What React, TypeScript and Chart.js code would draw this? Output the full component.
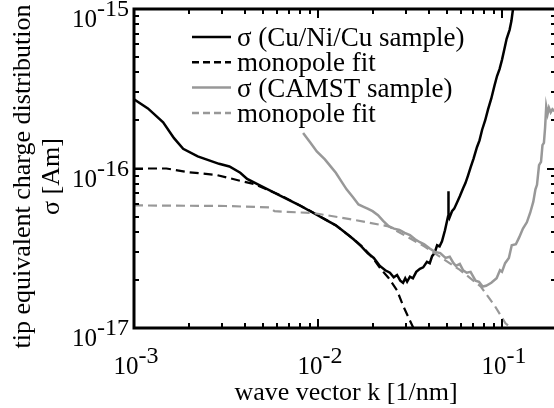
import React, { useEffect, useRef } from "react";
import { Chart, registerables } from "chart.js";

Chart.register(...registerables);

// ---- data ----
const cuK = [
  0.001, 0.00119, 0.00144, 0.00165, 0.00185, 0.00222, 0.0029, 0.0033, 0.00378, 0.00412,
  0.00492, 0.00642, 0.008, 0.0094, 0.0111, 0.0125, 0.0141, 0.0156, 0.0172, 0.0186,
  0.0201, 0.0217, 0.0232, 0.0246, 0.0258, 0.0269, 0.028, 0.029, 0.0298, 0.0305,
  0.0316, 0.0328, 0.0342, 0.0358, 0.0373, 0.0391, 0.0405, 0.0417, 0.043, 0.0444,
  0.0458, 0.0472, 0.049, 0.0509, 0.0511, 0.0513, 0.0518, 0.0535, 0.055, 0.0569,
  0.059, 0.0614, 0.0633, 0.0653, 0.0676, 0.07, 0.0731, 0.0755, 0.078, 0.081,
  0.084, 0.0875, 0.091, 0.094, 0.097, 0.1, 0.103, 0.106, 0.11, 0.1125, 0.1148, 0.117,
];
const cuSigma = [
  2.72e-16, 2.38e-16, 1.95e-16, 1.55e-16, 1.33e-16, 1.19e-16, 1.07e-16, 1.03e-16, 9.4e-17, 8.6e-17,
  7.75e-17, 6.65e-17, 5.85e-17, 5.28e-17, 4.75e-17, 4.4e-17, 3.95e-17, 3.6e-17, 3.25e-17, 2.95e-17,
  2.75e-17, 2.45e-17, 2.3e-17, 2.22e-17, 2.08e-17, 2.15e-17, 1.98e-17, 1.92e-17, 2.05e-17, 1.95e-17,
  2.1e-17, 2.05e-17, 2.25e-17, 2.35e-17, 2.4e-17, 2.6e-17, 2.55e-17, 2.82e-17, 2.95e-17, 3.3e-17,
  3.25e-17, 3.5e-17, 4.1e-17, 5.0e-17, 7.2e-17, 5.1e-17, 4.9e-17, 5.4e-17, 5.6e-17, 6.1e-17,
  6.7e-17, 7.5e-17, 8.1e-17, 9.0e-17, 1.02e-16, 1.15e-16, 1.36e-16, 1.5e-16, 1.75e-16, 2.0e-16,
  2.35e-16, 2.75e-16, 3.3e-16, 3.8e-16, 4.2e-16, 4.8e-16, 5.6e-16, 6.5e-16, 7.4e-16, 8.4e-16, 1.0e-15, 1.1e-15,
];

const cuFitK = [
  0.001, 0.0015, 0.00194, 0.00282, 0.0039, 0.0045, 0.00642, 0.008, 0.0094, 0.0111,
  0.0125, 0.0141, 0.0156, 0.0172, 0.0186, 0.0201, 0.0217, 0.0242, 0.0269, 0.029,
  0.0312, 0.033, 0.0345,
];
const cuFitSigma = [
  1.0e-16, 1.0e-16, 9.5e-17, 9.1e-17, 8.3e-17, 8.0e-17, 6.7e-17, 5.85e-17, 5.3e-17, 4.75e-17,
  4.4e-17, 3.95e-17, 3.62e-17, 3.28e-17, 2.98e-17, 2.7e-17, 2.38e-17, 2.06e-17, 1.72e-17, 1.38e-17,
  1.15e-17, 1.0e-17, 8.5e-18,
];

const camstK = [
  0.0083, 0.0091, 0.00985, 0.0109, 0.0118, 0.0125, 0.0134, 0.0143, 0.0155, 0.0166,
  0.0177, 0.0186, 0.0198, 0.0212, 0.0226, 0.0242, 0.0259, 0.0277, 0.0296, 0.0316,
  0.0337, 0.0358, 0.0378, 0.0405, 0.0432, 0.0462, 0.0493, 0.052, 0.0545, 0.0562,
  0.059, 0.0615, 0.0643, 0.0675, 0.0718, 0.075, 0.0785, 0.082, 0.0875, 0.0935,
  0.0975, 0.1, 0.104, 0.109, 0.113, 0.119, 0.124, 0.13, 0.1365, 0.1425,
  0.148, 0.152, 0.155, 0.159, 0.163, 0.166, 0.169, 0.1715, 0.174, 0.177,
  0.18, 0.184, 0.188, 0.192, 0.198,
];
const camstSigma = [
  1.67e-16, 1.45e-16, 1.28e-16, 1.14e-16, 1.02e-16, 9.4e-17, 8.3e-17, 7.4e-17, 6.6e-17, 5.95e-17,
  5.75e-17, 5.6e-17, 5.4e-17, 5.1e-17, 4.7e-17, 4.35e-17, 4.2e-17, 4.12e-17, 3.95e-17, 3.82e-17,
  3.6e-17, 3.45e-17, 3.35e-17, 3.15e-17, 3.0e-17, 2.95e-17, 2.75e-17, 2.8e-17, 2.55e-17, 2.45e-17,
  2.52e-17, 2.3e-17, 2.22e-17, 2.25e-17, 1.98e-17, 1.95e-17, 1.82e-17, 1.84e-17, 1.92e-17, 2.05e-17,
  2.3e-17, 2.25e-17, 2.55e-17, 2.75e-17, 3.3e-17, 3.35e-17, 3.7e-17, 4.2e-17, 4.6e-17, 5.3e-17,
  6.2e-17, 7.4e-17, 7.9e-17, 1.05e-16, 1.1e-16, 1.4e-16, 1.45e-16, 1.8e-16, 2.45e-16, 2.2e-16,
  2.4e-16, 2.25e-16, 2.35e-16, 2.3e-16, 2.35e-16,
];

const camstFitK = [
  0.001, 0.00316, 0.00545, 0.0058, 0.0064, 0.0094, 0.0149, 0.0242, 0.0378, 0.0588,
  0.0767, 0.0916, 0.1045, 0.112, 0.116,
];
const camstFitSigma = [
  5.87e-17, 5.82e-17, 5.7e-17, 5.4e-17, 5.36e-17, 5.26e-17, 4.82e-17, 4.34e-17, 3.25e-17, 2.32e-17,
  1.82e-17, 1.37e-17, 1.07e-17, 1.0e-17, 9.0e-18,
];

const seriesLabels = ["σ (Cu/Ni/Cu sample)", "monopole fit", "σ (CAMST sample)", "monopole fit"];
const xDecades = [-3, -2, -1, 0];
const yDecades = [-17, -16, -15];
const xLabelExponents = ["-3", "-2", "-1"];
const yLabelExponents = ["-17", "-16", "-15"];
const xTitle = "wave vector k [1/nm]";
const yTitleLines = ["tip equivalent charge distribution", "σ [Am]"];

const X_MIN = 1e-3;
const X_MAX = 0.1966;
const Y_MIN = 1e-17;
const Y_MAX = 1e-15;

const BLACK = "#000000";
const GRAY = "#989898";
const SERIF = "'Liberation Serif'";

const toPoints = (xs: number[], ys: number[]) => xs.map((x, i) => ({ x, y: ys[i] }));

const decorPlugin = {
  id: "decor",
  afterDatasetsDraw(chart: any) {
    const { ctx, chartArea } = chart;
    const xs = chart.scales.x;
    const ys = chart.scales.y;
    const { left, right, top, bottom } = chartArea;
    ctx.save();
    ctx.strokeStyle = "#000";
    ctx.fillStyle = "#000";

    // frame
    ctx.lineWidth = 3;
    ctx.beginPath();
    ctx.moveTo(left, top);
    ctx.lineTo(right, top);
    ctx.lineTo(right, bottom);
    ctx.lineTo(left, bottom);
    ctx.closePath();
    ctx.stroke();

    // ticks
    ctx.lineWidth = 2;
    const major = 9;
    const minor = 5;
    for (const d of xDecades) {
      for (let m = 1; m <= 9; m++) {
        const v = m * Math.pow(10, d);
        if (v < X_MIN * 0.999 || v > X_MAX) continue;
        const px = Math.round(xs.getPixelForValue(v));
        const len = m === 1 ? major : minor;
        ctx.beginPath();
        ctx.moveTo(px, bottom);
        ctx.lineTo(px, bottom - len);
        ctx.moveTo(px, top);
        ctx.lineTo(px, top + len);
        ctx.stroke();
      }
    }
    for (const d of yDecades) {
      for (let m = 1; m <= 9; m++) {
        const v = m * Math.pow(10, d);
        if (v < Y_MIN * 0.999 || v > Y_MAX * 1.001) continue;
        const py = Math.round(ys.getPixelForValue(v));
        const len = m === 1 ? major : minor;
        ctx.beginPath();
        ctx.moveTo(left, py);
        ctx.lineTo(left + len, py);
        ctx.moveTo(right, py);
        ctx.lineTo(right - len, py);
        ctx.stroke();
      }
    }

    // tick labels
    const baseFont = `25px ${SERIF}`;
    const expFont = `24px ${SERIF}`;
    ctx.textBaseline = "alphabetic";
    ctx.textAlign = "left";
    const drawPow = (x: number, y: number, exp: string, align: "right" | "center") => {
      ctx.font = baseFont;
      const wb = ctx.measureText("10").width;
      ctx.font = expFont;
      const we = ctx.measureText(exp).width;
      const total = wb + we;
      const x0 = align === "right" ? x - total : x - total / 2;
      ctx.font = baseFont;
      ctx.fillText("10", x0, y);
      ctx.font = expFont;
      ctx.fillText(exp, x0 + wb, y - 11);
    };
    yDecades.forEach((d, i) => {
      const py = ys.getPixelForValue(Math.pow(10, d));
      drawPow(left - 5, py + 18, yLabelExponents[i], "right");
    });
    xDecades.slice(0, 3).forEach((d, i) => {
      const px = xs.getPixelForValue(Math.pow(10, d));
      drawPow(px + 2, bottom + 46, xLabelExponents[i], "center");
    });

    // axis titles
    ctx.font = `26px ${SERIF}`;
    ctx.textAlign = "center";
    ctx.fillText(xTitle, (left + right) / 2 + 1, 400);
    const cy = (top + bottom) / 2 + 8;
    ctx.save();
    ctx.translate(30, cy);
    ctx.rotate(-Math.PI / 2);
    ctx.fillText(yTitleLines[0], 0, 0);
    ctx.restore();
    ctx.save();
    ctx.translate(59, cy);
    ctx.rotate(-Math.PI / 2);
    ctx.fillText(yTitleLines[1], 0, 0);
    ctx.restore();

    // legend
    ctx.font = `27px ${SERIF}`;
    ctx.textAlign = "left";
    const styles = chart.data.datasets;
    seriesLabels.forEach((lab, i) => {
      const cyRow = 37 + i * 25.3;
      const ds = styles[i];
      ctx.save();
      ctx.strokeStyle = ds.borderColor;
      ctx.lineWidth = 2.5;
      ctx.setLineDash(ds.borderDash && ds.borderDash.length ? [7, 4] : []);
      ctx.beginPath();
      ctx.moveTo(192, cyRow);
      ctx.lineTo(231, cyRow);
      ctx.stroke();
      ctx.restore();
      ctx.fillStyle = "#000";
      ctx.fillText(lab, 237, cyRow + 9);
    });
    ctx.restore();
  },
};

export default function App() {
  const canvasRef = useRef<HTMLCanvasElement | null>(null);

  useEffect(() => {
    document.body.style.margin = "0";
    const canvas = canvasRef.current;
    if (!canvas) return;
    const chart = new Chart(canvas, {
      type: "line",
      data: {
        datasets: [
          {
            label: seriesLabels[0],
            data: toPoints(cuK, cuSigma),
            borderColor: BLACK,
            borderWidth: 2.5,
            borderDash: [],
            order: 4,
          },
          {
            label: seriesLabels[1],
            data: toPoints(cuFitK, cuFitSigma),
            borderColor: BLACK,
            borderWidth: 2.2,
            borderDash: [9, 5],
            order: 3,
          },
          {
            label: seriesLabels[2],
            data: toPoints(camstK, camstSigma),
            borderColor: GRAY,
            borderWidth: 2.5,
            borderDash: [],
            order: 2,
          },
          {
            label: seriesLabels[3],
            data: toPoints(camstFitK, camstFitSigma),
            borderColor: GRAY,
            borderWidth: 2.2,
            borderDash: [9, 5],
            order: 1,
          },
        ] as any,
      },
      options: {
        responsive: false,
        animation: false,
        parsing: false as any,
        layout: { padding: { left: 134, top: 9, right: 4, bottom: 80 } },
        scales: {
          x: { type: "logarithmic", min: X_MIN, max: X_MAX, display: false },
          y: { type: "logarithmic", min: Y_MIN, max: Y_MAX, display: false },
        },
        elements: { point: { radius: 0 }, line: { tension: 0, fill: false } },
        plugins: { legend: { display: false }, tooltip: { enabled: false } },
      } as any,
      plugins: [decorPlugin],
    });
    return () => chart.destroy();
  }, []);

  return (
    <div style={{ width: 554, height: 408, overflow: "hidden", position: "relative", background: "#fff" }}>
      <canvas ref={canvasRef} width={560} height={408} style={{ display: "block" }} />
    </div>
  );
}
